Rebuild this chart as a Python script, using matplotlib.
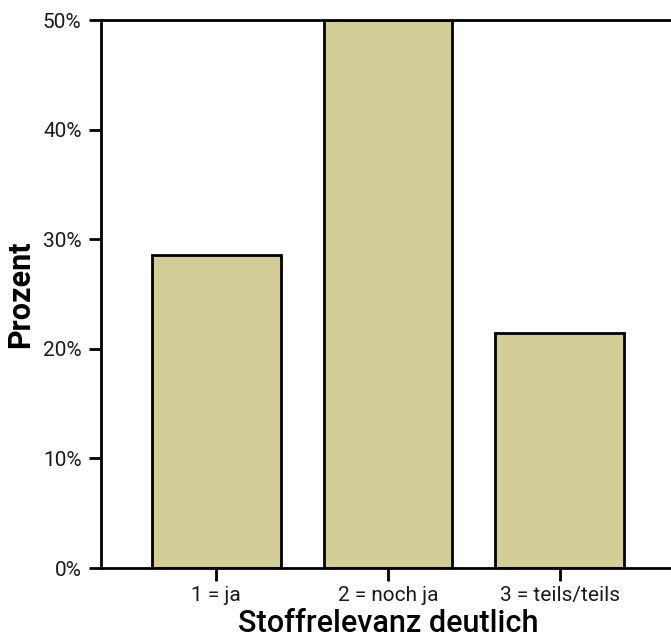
import matplotlib
matplotlib.use("Agg")
import matplotlib.pyplot as plt
from matplotlib.ticker import FuncFormatter

categories = ["1 = ja", "2 = noch ja", "3 = teils/teils"]
percent = [28.57, 50.0, 21.43]
y_ticks = [0, 10, 20, 30, 40, 50]

plt.rcParams['font.family'] = ['Roboto', 'DejaVu Sans']

W, H = 671, 641
fig = plt.figure(figsize=(W/100, H/100), dpi=100)
left, right, top, bottom = 101, 675, 20, 568
ax = fig.add_axes([left/W, 1 - bottom/H, (right-left)/W, (bottom-top)/H])

x = list(range(1, len(categories)+1))
ax.bar(x, percent, width=0.75, color="#d3ce98", edgecolor="black", linewidth=2, zorder=2)

ax.set_xlim(0.33, 3.67)
ax.set_ylim(0, 50)
ax.set_yticks(y_ticks)
ax.yaxis.set_major_formatter(FuncFormatter(lambda v, p: f"{int(v)}%"))
ax.set_xticks(x)
ax.set_xticklabels(categories)

for s in ["left", "bottom", "top"]:
    ax.spines[s].set_linewidth(2)
    ax.spines[s].set_zorder(3)
ax.spines["right"].set_visible(False)

ax.tick_params(axis="both", length=9, width=2, labelsize=15, color="black", labelcolor="#1a1a1a")
ax.tick_params(axis="y", pad=5)
ax.tick_params(axis="x", pad=4)

ax.set_ylabel("Prozent", fontsize=22, fontweight="bold", va="center")
ax.yaxis.set_label_coords(-0.141, 0.5)
ax.set_xlabel("Stoffrelevanz deutlich", fontsize=22, fontweight="medium", labelpad=3)

fig.savefig("out.png", dpi=100)
